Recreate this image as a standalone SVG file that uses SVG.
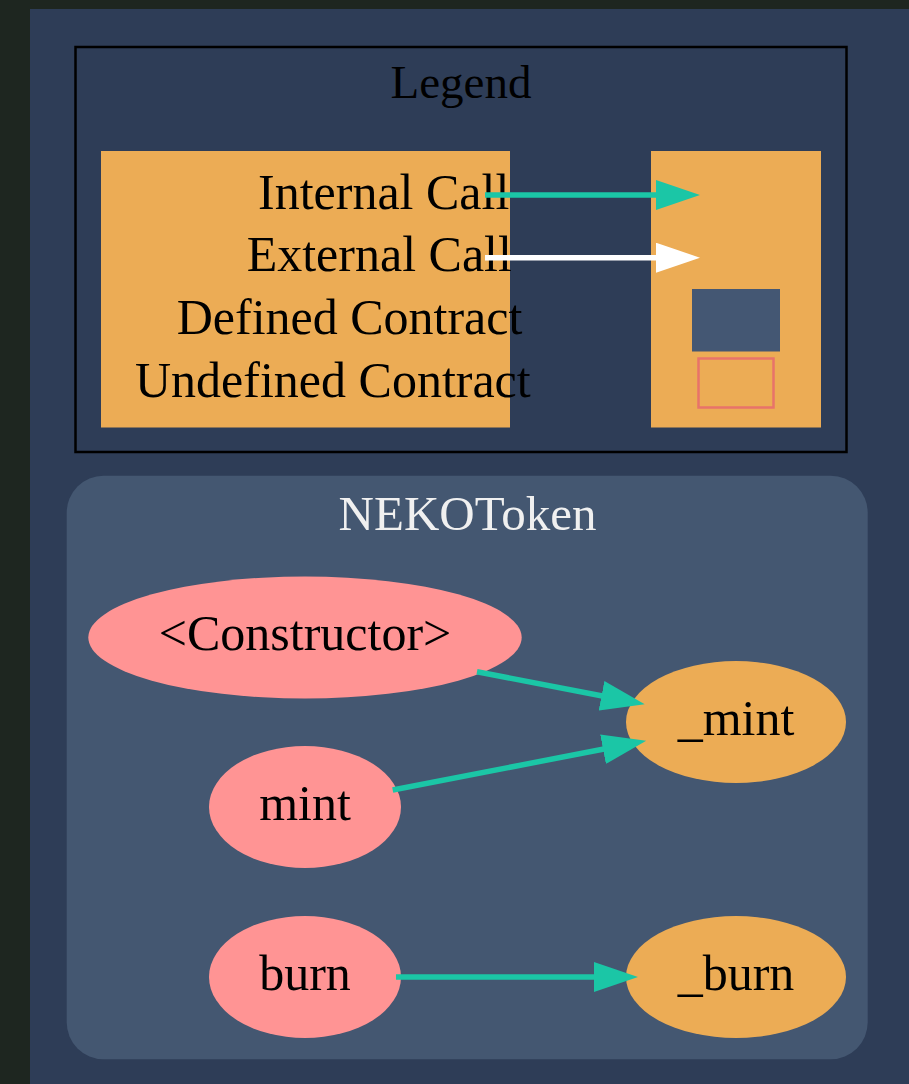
<svg xmlns="http://www.w3.org/2000/svg" width="909" height="1084" viewBox="0 0 909 1084">
<defs>
<style>
text{font-family:"Liberation Serif","Times New Roman",serif;fill:#000}
.lg{fill:#ecac55}
.fn{fill:#ff9494}
.int{fill:#ecac55}
.teal{stroke:#1bc6a6}
.white{stroke:#ffffff}
</style>
<marker id="ah" markerUnits="userSpaceOnUse" markerWidth="44" markerHeight="30" refX="1" refY="15" orient="auto" viewBox="0 0 44 30"><path d="M0,0 L44,15 L0,30 z" fill="#1bc6a6"/></marker>
<marker id="ahw" markerUnits="userSpaceOnUse" markerWidth="44" markerHeight="30" refX="1" refY="15" orient="auto" viewBox="0 0 44 30"><path d="M0,0 L44,15 L0,30 z" fill="#ffffff"/></marker>
</defs>
<rect x="0" y="0" width="909" height="1084" fill="#1e2620"/>
<rect x="30" y="9" width="879" height="1075" fill="#2e3d57"/>
<g id="legend">
<rect x="75.5" y="47" width="771" height="405" fill="none" stroke="#000" stroke-width="2.5"/>
<text x="461" y="97.7" font-size="47" text-anchor="middle">Legend</text>
<rect class="lg" x="101" y="151" width="409" height="276.5"/>
<rect class="lg" x="651" y="151" width="170" height="276.5"/>
<text x="258" y="209.3" font-size="50">Internal Call</text>
<text x="246.7" y="271" font-size="50">External Call</text>
<text x="176.7" y="334" font-size="50">Defined Contract</text>
<text x="135" y="396.7" font-size="50">Undefined Contract</text>
<rect x="692" y="289" width="88" height="62.5" fill="#445773"/>
<rect x="698.5" y="358.5" width="75" height="49" fill="none" stroke="#e8736a" stroke-width="2.5"/>
<line class="teal" fill="none" stroke-width="5.5" x1="485" y1="195" x2="657" y2="195" marker-end="url(#ah)"/>
<line class="white" fill="none" stroke-width="5.5" x1="485" y1="257.7" x2="657" y2="257.7" marker-end="url(#ahw)"/>
</g>
<g id="cluster_NEKOToken">
<rect x="66.7" y="475.7" width="801" height="583.6" rx="37" ry="37" fill="#445771"/>
<text x="467.5" y="530" font-size="49" text-anchor="middle" style="fill:#f0f0f0">NEKOToken</text>
</g>
<g id="node_constructor">
<ellipse class="fn" cx="305" cy="637.5" rx="216.7" ry="61"/>
<text x="305" y="650" font-size="50" text-anchor="middle">&lt;Constructor&gt;</text>
</g>
<g id="node_mint">
<ellipse class="fn" cx="305" cy="807" rx="96" ry="61"/>
<text x="305" y="820" font-size="50" text-anchor="middle">mint</text>
</g>
<g id="node_burn">
<ellipse class="fn" cx="305" cy="977" rx="96" ry="61"/>
<text x="305" y="990" font-size="50" text-anchor="middle">burn</text>
</g>
<g id="node__mint">
<ellipse class="int" cx="736" cy="722" rx="110" ry="61"/>
<text x="736" y="735" font-size="50" text-anchor="middle">_mint</text>
</g>
<g id="node__burn">
<ellipse class="int" cx="736" cy="977" rx="110" ry="61"/>
<text x="736" y="990" font-size="50" text-anchor="middle">_burn</text>
</g>
<g id="edges" fill="none" stroke-width="5.5">
<line class="teal" x1="477" y1="671.7" x2="602.5" y2="696" marker-end="url(#ah)"/>
<line class="teal" x1="392.7" y1="790" x2="604" y2="749" marker-end="url(#ah)"/>
<line class="teal" x1="396" y1="977" x2="595" y2="977" marker-end="url(#ah)"/>
</g>
</svg>
